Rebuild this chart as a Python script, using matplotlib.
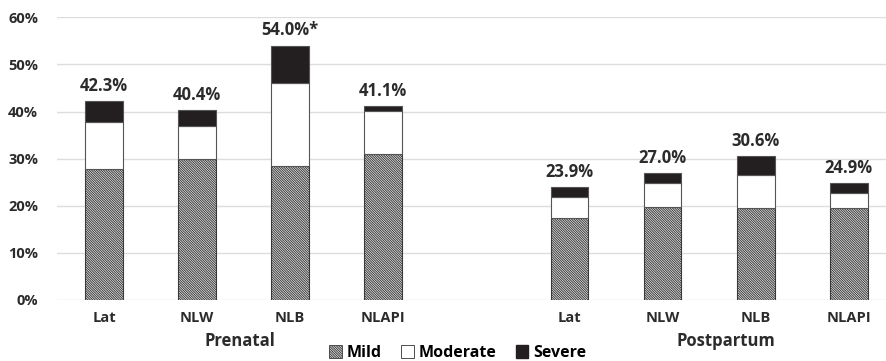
import numpy as np
import matplotlib.pyplot as plt
from matplotlib.patches import Patch

plt.rcParams['font.family'] = ['Open Sans', 'DejaVu Sans']
plt.rcParams['hatch.linewidth'] = 0.7

categories = ['Lat', 'NLW', 'NLB', 'NLAPI', '', 'Lat', 'NLW', 'NLB', 'NLAPI']
groups = ['Prenatal', 'Postpartum']
mild = [27.8, 29.9, 28.4, 30.9, 0, 17.5, 19.7, 19.5, 19.6]
moderate = [9.9, 7.1, 17.7, 9.2, 0, 4.4, 5.1, 7.0, 3.2]
totals = [42.3, 40.4, 54.0, 41.1, 0, 23.9, 27.0, 30.6, 24.9]
total_labels = ['42.3%', '40.4%', '54.0%*', '41.1%', '', '23.9%', '27.0%', '30.6%', '24.9%']

severe = [t - a - b for t, a, b in zip(totals, mild, moderate)]
x = np.arange(len(categories))
keep = [i for i in range(len(categories)) if categories[i] != '']

fig = plt.figure(figsize=(8.87, 3.61), dpi=100)
ax = fig.add_axes([0.0648, 0.169, 0.9352, 0.783])

w = 0.405
hatch = '\\' * 14
mild_k = [mild[i] for i in keep]
mod_k = [moderate[i] for i in keep]
sev_k = [severe[i] for i in keep]
xk = x[keep]
ax.bar(xk, mild_k, w, color='#f2f2f2', edgecolor='#3a3a3a', hatch=hatch, linewidth=0.8, zorder=3)
ax.bar(xk, mod_k, w, bottom=mild_k, color='white', edgecolor='#555555', linewidth=0.8, zorder=3)
ax.bar(xk, sev_k, w, bottom=np.array(mild_k) + np.array(mod_k), color='#231f20',
       edgecolor='#555555', linewidth=0.8, zorder=3)

for i in keep:
    ax.text(x[i], totals[i] + 1.3, total_labels[i], ha='center', va='bottom',
            fontsize=12, fontweight='bold', color='#2b2b2b')

ax.set_ylim(0, 60)
ax.set_xlim(-0.5, 8.41)
ax.set_yticks(range(0, 61, 10))
ax.set_yticklabels([f'{v}%' for v in range(0, 61, 10)], fontsize=10.5, fontweight='bold', color='#2b2b2b')
ax.set_xticks(xk)
ax.set_xticklabels([categories[i] for i in keep], fontsize=10.5, fontweight='bold', color='#2b2b2b')
ax.tick_params(length=0, pad=8)
ax.tick_params(axis='y', pad=14)
ax.grid(axis='y', color='#dddddd', linewidth=1, zorder=0)
for s in ax.spines.values():
    s.set_visible(False)

ax.text(1.46, -8.6, groups[0], ha='center', va='center', fontsize=12, fontweight='bold',
        color='#2b2b2b', clip_on=False)
ax.text(6.68, -8.6, groups[1], ha='center', va='center', fontsize=12, fontweight='bold',
        color='#2b2b2b', clip_on=False)

handles = [Patch(facecolor='#f2f2f2', edgecolor='#3a3a3a', hatch=hatch, linewidth=0.6),
           Patch(facecolor='white', edgecolor='#333333', linewidth=0.6),
           Patch(facecolor='#231f20', edgecolor='#231f20')]
fig.legend(handles, ['Mild', 'Moderate', 'Severe'], loc='center', bbox_to_anchor=(0.516, 0.022),
           ncol=3, frameon=False, prop={'weight': 'bold', 'size': 11.5},
           handlelength=0.8, handleheight=0.8, handletextpad=0.3, columnspacing=1.2)

fig.savefig('out.png', dpi=100)
